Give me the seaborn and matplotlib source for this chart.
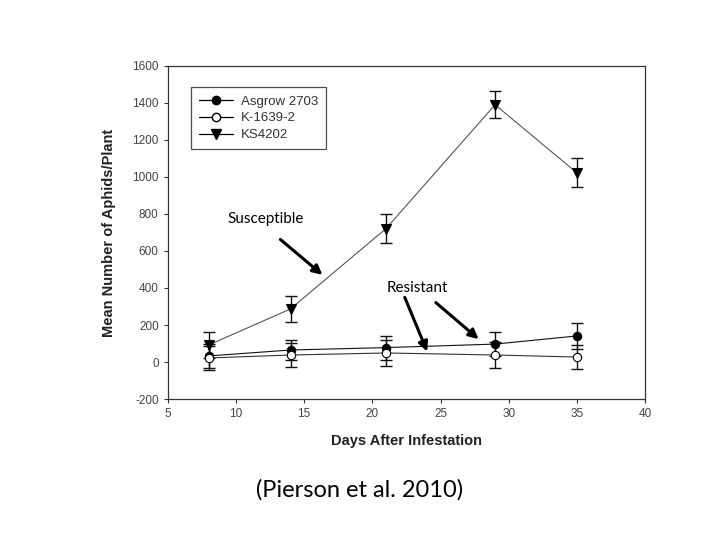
import matplotlib
matplotlib.use('Agg')
import matplotlib.pyplot as plt
from matplotlib.lines import Line2D
import seaborn as sns
import pandas as pd
import numpy as np

# data (mean +/- error)
days = [8, 14, 21, 29, 35]
asgrow = [33, 65, 78, 97, 141]
asgrow_err = [65, 55, 65, 65, 68]
k1639 = [22, 38, 49, 38, 27]
k1639_err = [65, 65, 68, 68, 65]
ks4202 = [92, 287, 721, 1390, 1022]
ks4202_err = [72, 70, 80, 73, 78]
lines = ['Asgrow 2703', 'K-1639-2', 'KS4202']

df = pd.DataFrame({
    'day': days * 3,
    'aphids': asgrow + k1639 + ks4202,
    'err': asgrow_err + k1639_err + ks4202_err,
    'line': [l for l in lines for _ in days],
})

sns.set_style('ticks')
plt.rcParams['font.family'] = ['Liberation Sans', 'DejaVu Sans']
plt.rcParams['axes.unicode_minus'] = False

fig = plt.figure(figsize=(7.2, 5.4), dpi=100)
ax = fig.add_axes([0.233, 0.261, 0.663, 0.617])

colors = {'Asgrow 2703': '#111111', 'K-1639-2': '#333333', 'KS4202': '#555555'}
markers = {'Asgrow 2703': 'o', 'K-1639-2': 'o', 'KS4202': 'v'}

for name in lines:
    sub = df[df['line'] == name]
    ax.errorbar(sub['day'], sub['aphids'], yerr=sub['err'], fmt='none',
                ecolor='#111111', elinewidth=1.0, capsize=4, capthick=1.0, zorder=2)

sns.lineplot(data=df, x='day', y='aphids', hue='line', style='line',
             palette=colors, markers=markers, dashes=False, ax=ax,
             linewidth=0.8, markersize=6, markeredgecolor='black',
             markerfacecolor='black', markeredgewidth=0.8, legend=False, zorder=3)

for ln in ax.lines:
    yd = np.asarray(ln.get_ydata(), dtype=float)
    if len(yd) == len(k1639) and np.allclose(yd, k1639):
        ln.set_markerfacecolor('white')
    if len(yd) == len(ks4202) and np.allclose(yd, ks4202):
        ln.set_markersize(7)

ax.set_xlim(5, 40)
ax.set_ylim(-200, 1600)
ax.set_xticks(np.arange(5, 41, 5))
ax.set_yticks(np.arange(-200, 1601, 200))
ax.tick_params(axis='both', direction='out', length=3, width=0.8,
               labelsize=8.5, colors='#333333', labelcolor='#444444')
for s in ax.spines.values():
    s.set_visible(True)
    s.set_color('#333333')
    s.set_linewidth(0.9)

ax.set_xlabel('Days After Infestation', fontsize=10.5, fontweight='bold', color='#222222', labelpad=10)
ax.set_ylabel('Mean Number of Aphids/Plant', fontsize=10.5, fontweight='bold', color='#222222', labelpad=12)

# legend
handles = [
    Line2D([], [], color='black', marker='o', markerfacecolor='black', markeredgecolor='black', markersize=6, lw=0.9),
    Line2D([], [], color='black', marker='o', markerfacecolor='white', markeredgecolor='black', markersize=6, lw=0.9),
    Line2D([], [], color='black', marker='v', markerfacecolor='black', markeredgecolor='black', markersize=7, lw=0.9),
]
leg = ax.legend(handles, lines, loc='upper left', bbox_to_anchor=(0.035, 0.955),
                fontsize=9.5, frameon=True, fancybox=False, edgecolor='#222222',
                handlelength=2.6, borderpad=0.6, labelspacing=0.35, handletextpad=0.6)
leg.get_frame().set_linewidth(0.9)
for t in leg.get_texts():
    t.set_color('#333333')

# annotations
ann_font = ['Lato', 'DejaVu Sans']
ax.text(12.2, 775, 'Susceptible', fontsize=11, family=ann_font, ha='center', va='center', color='black')
ax.annotate('', xy=(16.5, 461), xytext=(13.1, 672),
            arrowprops=dict(arrowstyle='-|>', color='black', lw=2.2, mutation_scale=14))
ax.text(23.3, 401, 'Resistant', fontsize=11, family=ann_font, ha='center', va='center', color='black')
ax.annotate('', xy=(24.1, 43), xytext=(22.3, 363),
            arrowprops=dict(arrowstyle='-|>', color='black', lw=2.2, mutation_scale=14))
ax.annotate('', xy=(27.95, 114), xytext=(24.5, 331),
            arrowprops=dict(arrowstyle='-|>', color='black', lw=2.2, mutation_scale=14))

fig.text(0.5, 1 - 490 / 540, '(Pierson et al. 2010)', fontsize=17, family=ann_font,
         ha='center', va='center', color='black')

fig.savefig('out.png', dpi=100)
